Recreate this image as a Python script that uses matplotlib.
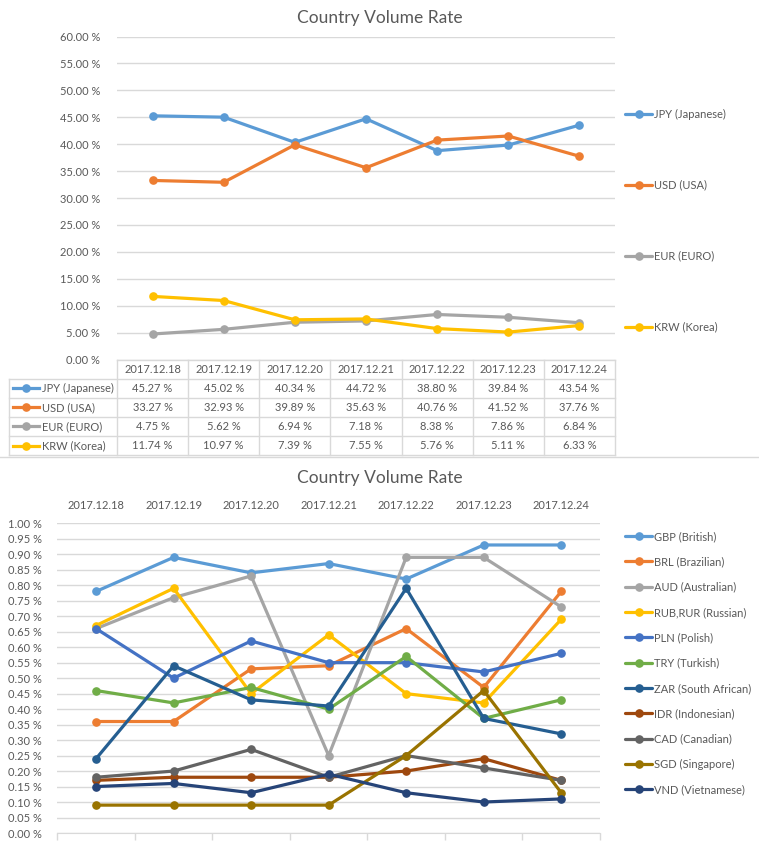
import matplotlib
matplotlib.use('Agg')
import matplotlib.pyplot as plt
from matplotlib.lines import Line2D
from matplotlib.ticker import FuncFormatter, MultipleLocator, FixedLocator
from matplotlib.transforms import blended_transform_factory

# ---------------- data ----------------
dates = ['2017.12.18', '2017.12.19', '2017.12.20', '2017.12.21',
         '2017.12.22', '2017.12.23', '2017.12.24']

top_names = ['JPY (Japanese)', 'USD (USA)', 'EUR (EURO)', 'KRW (Korea)']
jpy = [45.27, 45.02, 40.34, 44.72, 38.80, 39.84, 43.54]
usd = [33.27, 32.93, 39.89, 35.63, 40.76, 41.52, 37.76]
eur = [4.75, 5.62, 6.94, 7.18, 8.38, 7.86, 6.84]
krw = [11.74, 10.97, 7.39, 7.55, 5.76, 5.11, 6.33]
top_colors = ['#5B9BD5', '#ED7D31', '#A5A5A5', '#FFC000']

bottom_names = ['GBP (British)', 'BRL (Brazilian)', 'AUD (Australian)',
                'RUB,RUR (Russian)', 'PLN (Polish)', 'TRY (Turkish)',
                'ZAR (South African)', 'IDR (Indonesian)', 'CAD (Canadian)',
                'SGD (Singapore)', 'VND (Vietnamese)']
gbp = [0.78, 0.89, 0.84, 0.87, 0.82, 0.93, 0.93]
brl = [0.36, 0.36, 0.53, 0.54, 0.66, 0.47, 0.78]
aud = [0.66, 0.76, 0.83, 0.25, 0.89, 0.89, 0.73]
rub = [0.67, 0.79, 0.45, 0.64, 0.45, 0.42, 0.69]
pln = [0.66, 0.50, 0.62, 0.55, 0.55, 0.52, 0.58]
try_ = [0.46, 0.42, 0.47, 0.40, 0.57, 0.37, 0.43]
zar = [0.24, 0.54, 0.43, 0.41, 0.79, 0.37, 0.32]
idr = [0.17, 0.18, 0.18, 0.18, 0.20, 0.24, 0.17]
cad = [0.18, 0.20, 0.27, 0.18, 0.25, 0.21, 0.17]
sgd = [0.09, 0.09, 0.09, 0.09, 0.25, 0.46, 0.13]
vnd = [0.15, 0.16, 0.13, 0.19, 0.13, 0.10, 0.11]
bottom_colors = ['#5B9BD5', '#ED7D31', '#A5A5A5', '#FFC000', '#4472C4',
                 '#70AD47', '#255E91', '#9E480E', '#636363', '#997300',
                 '#264478']

top_series = [jpy, usd, eur, krw]
bottom_series = [gbp, brl, aud, rub, pln, try_, zar, idr, cad, sgd, vnd]

# ---------------- style ----------------
plt.rcParams['font.family'] = ['Lato', 'DejaVu Sans']
TXT = '#595959'
GRID = '#D9D9D9'
FS = 8
W, H = 759, 848
fig = plt.figure(figsize=(W / 100, H / 100), dpi=100)


def rect(left, top, right, bottom):
    return [left / W, 1 - bottom / H, (right - left) / W, (bottom - top) / H]


LW = 2.3
MS = 5.2
x = list(range(len(dates)))

# ---------------- top chart ----------------
ax1 = fig.add_axes(rect(117, 36.5, 615, 359.6))
for s, name, c in zip(top_series, top_names, top_colors):
    ax1.plot(x, s, color=c, lw=LW, marker='o', ms=MS, label=name,
             solid_capstyle='round', zorder=3)
ax1.set_xlim(-0.5, len(dates) - 0.5)
ax1.set_ylim(0, 60)
ax1.yaxis.set_major_locator(MultipleLocator(5))
ax1.yaxis.set_major_formatter(FuncFormatter(lambda v, p: f'{v:.2f} %'))
ax1.grid(axis='y', color=GRID, lw=1)
ax1.set_axisbelow(True)
ax1.set_xticks([])
for sp in ax1.spines.values():
    sp.set_visible(False)
ax1.tick_params(axis='y', length=0, pad=12, labelsize=FS, labelcolor=TXT)

fig.text(0.5, 1 - 18 / H, 'Country Volume Rate', ha='center', va='center',
         fontsize=12.5, color=TXT)

leg1 = ax1.legend(loc='upper left', bbox_to_anchor=(625 / W, 1 - 108.5 / H),
                  bbox_transform=fig.transFigure, frameon=False,
                  fontsize=FS, labelcolor=TXT, handlelength=2.45,
                  handletextpad=0.2, labelspacing=5.4, borderpad=0,
                  borderaxespad=0, numpoints=1)

# data table below top chart
rh = 19.1 / 323.1
tr = blended_transform_factory(ax1.transData, ax1.transAxes)
n = len(dates)
left_ax = (9.3 - 117) / 498
for i in range(n + 1):
    ax1.add_line(Line2D([i - 0.5, i - 0.5], [0, -5 * rh], transform=tr,
                        color=GRID, lw=1, clip_on=False))
ax1.add_line(Line2D([-0.5, n - 0.5], [0, 0], transform=tr, color=GRID,
                    lw=1, clip_on=False))
for k in range(1, 6):
    ax1.add_line(Line2D([left_ax, 1], [-k * rh, -k * rh],
                        transform=ax1.transAxes, color=GRID, lw=1,
                        clip_on=False))
ax1.add_line(Line2D([left_ax, left_ax], [-rh, -5 * rh],
                    transform=ax1.transAxes, color=GRID, lw=1, clip_on=False))
for i, d in enumerate(dates):
    ax1.text(i, -0.5 * rh, d, transform=tr, ha='center', va='center',
             fontsize=FS, color=TXT)
for r, (s, name, c) in enumerate(zip(top_series, top_names, top_colors)):
    yc = -(r + 1.5) * rh
    for i, v in enumerate(s):
        ax1.text(i, yc, f'{v:.2f} %', transform=tr, ha='center',
                 va='center', fontsize=FS, color=TXT)
    x0 = (12.7 - 117) / 498
    x1 = (39.3 - 117) / 498
    ax1.add_line(Line2D([x0, x1], [yc, yc], transform=ax1.transAxes,
                        color=c, lw=LW, clip_on=False))
    ax1.add_line(Line2D([(x0 + x1) / 2], [yc], transform=ax1.transAxes,
                        color=c, marker='o', ms=MS, clip_on=False))
    ax1.text((42 - 117) / 498, yc, name, transform=ax1.transAxes,
             ha='left', va='center', fontsize=FS, color=TXT)

# chart border line between charts
fig.add_artist(Line2D([0, 1], [1 - 456.7 / H, 1 - 456.7 / H],
                      transform=fig.transFigure, color=GRID, lw=1))

# ---------------- bottom chart ----------------
ax2 = fig.add_axes(rect(57.3, 523.3, 600, 833))
for s, name, c in zip(bottom_series, bottom_names, bottom_colors):
    ax2.plot(x, s, color=c, lw=LW, marker='o', ms=MS, label=name,
             solid_capstyle='round', zorder=3)
ax2.set_xlim(-0.5, len(dates) - 0.5)
ax2.set_ylim(0, 1.0)
ax2.yaxis.set_major_locator(MultipleLocator(0.05))
ax2.yaxis.set_major_formatter(FuncFormatter(lambda v, p: f'{v:.2f} %'))
ax2.grid(axis='y', color=GRID, lw=1)
ax2.set_axisbelow(True)
ax2.set_xticks(x)
ax2.set_xticklabels(dates)
ax2.xaxis.set_minor_locator(FixedLocator([i - 0.5 for i in range(n + 1)]))
ax2.tick_params(axis='x', which='major', top=True, labeltop=True,
                bottom=False, labelbottom=False, length=0, pad=9,
                labelsize=FS, labelcolor=TXT)
ax2.tick_params(axis='x', which='minor', bottom=True, top=False,
                length=5, color=GRID, width=1)
ax2.tick_params(axis='y', length=0, pad=11, labelsize=FS, labelcolor=TXT)
for k, sp in ax2.spines.items():
    sp.set_visible(k == 'bottom')
ax2.spines['bottom'].set_color(GRID)

fig.text(0.5, 1 - 478 / H, 'Country Volume Rate', ha='center', va='center',
         fontsize=12.5, color=TXT)

leg2 = ax2.legend(loc='upper left', bbox_to_anchor=(625 / W, 1 - 531 / H),
                  bbox_transform=fig.transFigure, frameon=False,
                  fontsize=FS, labelcolor=TXT, handlelength=2.45,
                  handletextpad=0.2, labelspacing=1.29, borderpad=0,
                  borderaxespad=0, numpoints=1)

fig.savefig('out.png', dpi=100)
